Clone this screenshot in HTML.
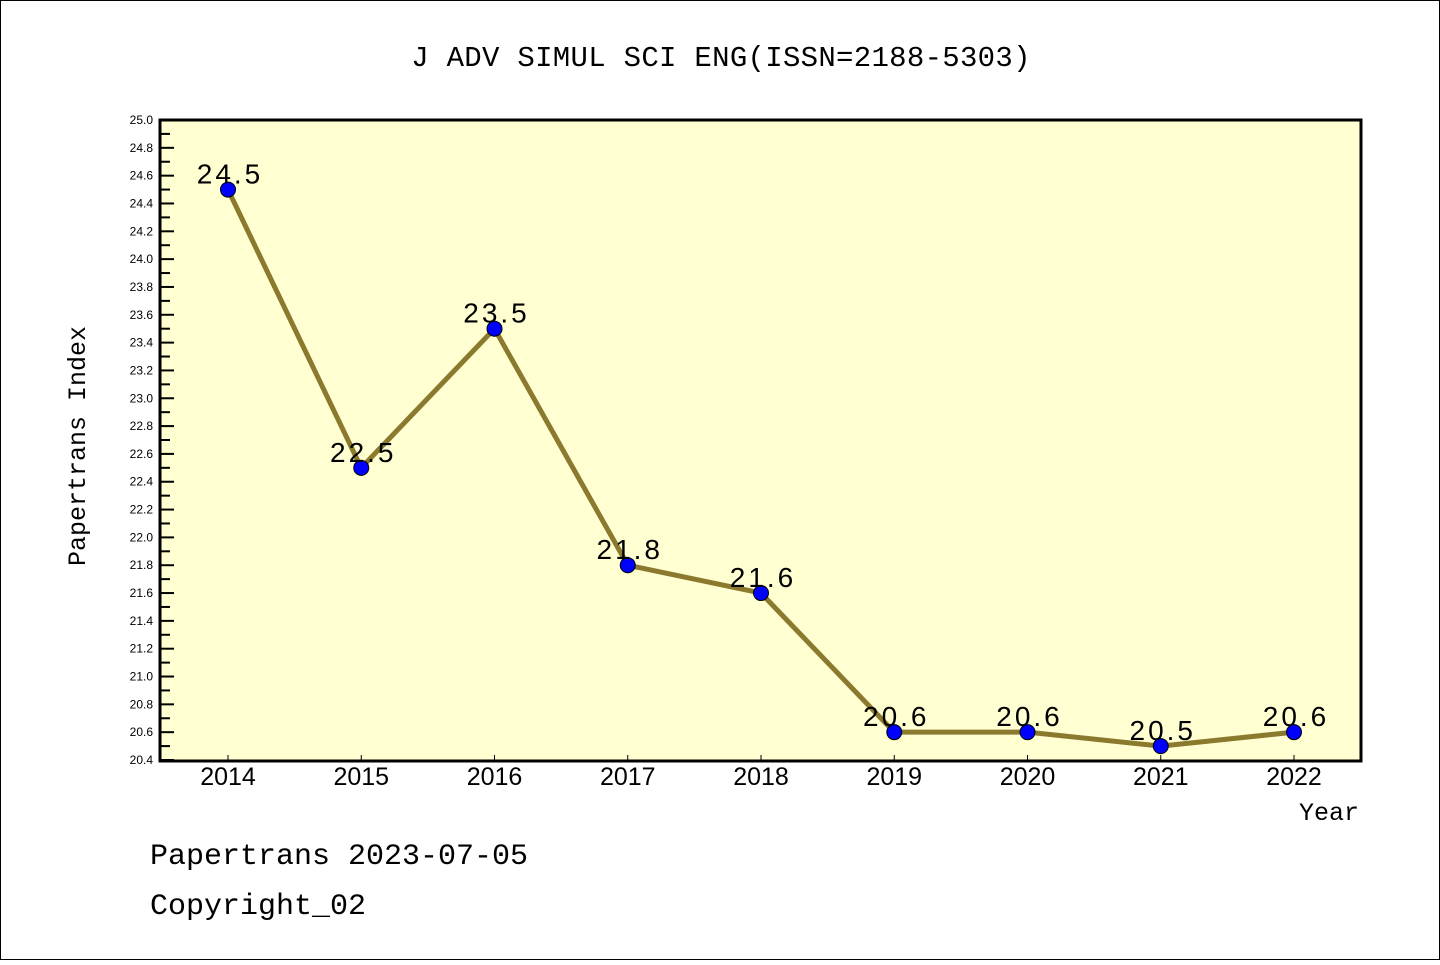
<!DOCTYPE html>
<html><head><meta charset="utf-8"><style>
html,body{margin:0;padding:0;background:#fff;}
body{width:1440px;height:960px;overflow:hidden;}
</style></head><body>
<svg id="chart" width="1440" height="960" xmlns="http://www.w3.org/2000/svg">
<rect x="0.5" y="0.5" width="1439" height="959" fill="#fff" stroke="#000" stroke-width="1"/>
<text x="721" y="66" text-anchor="middle" font-family="Liberation Mono, monospace" font-size="29" letter-spacing="0.3">J ADV SIMUL SCI ENG(ISSN=2188-5303)</text>
<rect x="160" y="120" width="1201" height="641" fill="#ffffd2"/>
<g id="axes"></g>
<g id="series"></g>
<rect x="160" y="120" width="1201" height="641" fill="none" stroke="#000" stroke-width="3"/>
<text transform="translate(85,446) rotate(-90)" text-anchor="middle" font-family="Liberation Mono, monospace" font-size="25">Papertrans Index</text>
<text x="1359" y="820" text-anchor="end" font-family="Liberation Mono, monospace" font-size="25">Year</text>
<text x="150" y="864" font-family="Liberation Mono, monospace" font-size="30">Papertrans 2023-07-05</text>
<text x="150" y="914" font-family="Liberation Mono, monospace" font-size="30">Copyright_02</text>
</svg>
<script>
const years = ["2014","2015","2016","2017","2018","2019","2020","2021","2022"];
const values = [24.5,22.5,23.5,21.8,21.6,20.6,20.6,20.5,20.6];
const valueLabels = ["24.5","22.5","23.5","21.8","21.6","20.6","20.6","20.5","20.6"];
const yMin = 20.4, yMax = 25.0;
const NS="http://www.w3.org/2000/svg";
const x0=228, xStep=(1294-228)/8;
const xs=i=>x0+i*xStep;
const ys=v=>120+(yMax-v)/(yMax-yMin)*640;
function el(t,a,p){const e=document.createElementNS(NS,t);for(const k in a)e.setAttribute(k,a[k]);p.appendChild(e);return e;}
const axes=document.getElementById('axes'), ser=document.getElementById('series');
const nT=Math.round((yMax-yMin)/0.1);
for(let i=0;i<=nT;i++){
  const v=yMin+i*0.1, y=ys(v), major=i%2===0;
  const t=el('line',{x1:160,x2:160+(major?14:10),y1:y,y2:y,stroke:'#000','stroke-width':2},axes);
  
  
  if(major){
    const l=el('text',{x:153,y:y+4,'text-anchor':'end','font-family':'Liberation Sans, sans-serif','font-size':12},axes);
    l.textContent=v.toFixed(1);
    
    
  }
}
years.forEach((yr,i)=>{
  const x=xs(i);
  const t=el('line',{x1:x,x2:x,y1:761,y2:755,stroke:'#000','stroke-width':1},axes);
  
  
  const l=el('text',{x:x,y:785,'text-anchor':'middle','font-family':'Liberation Sans, sans-serif','font-size':25},axes);
  l.textContent=yr;
  
  
});
const pts=values.map((v,i)=>xs(i)+','+ys(v)).join(' ');
const line=el('polyline',{points:pts,fill:'none',stroke:'#8b7a2e','stroke-width':5},ser);


values.forEach((v,i)=>{
  const c=el('circle',{cx:xs(i),cy:ys(v),r:7.5,fill:'#0000ff',stroke:'#000','stroke-width':1},ser);
  
  
  const l=el('text',{x:xs(i)+2,y:ys(v)-6,'text-anchor':'middle','font-family':'Liberation Sans, sans-serif','font-size':28,'letter-spacing':3},ser);
  l.textContent=valueLabels[i];
  
  
});
</script>
</body></html>
